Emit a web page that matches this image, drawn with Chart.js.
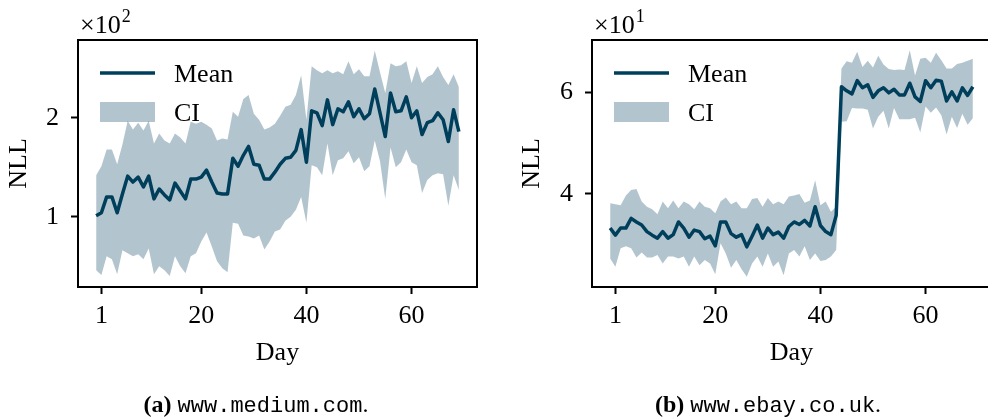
<!DOCTYPE html>
<html><head><meta charset="utf-8">
<script src="https://cdn.jsdelivr.net/npm/chart.js@4/dist/chart.umd.min.js"></script>
<style>
html,body{margin:0;padding:0;overflow:hidden;background:#fff;width:988px;height:419px}
.wrap{position:absolute;top:0}
.cap{position:absolute;top:390px;font-family:'Liberation Serif',serif;font-size:24px;color:#000;white-space:nowrap;transform:translateX(-50%);line-height:28px}
.cap b{font-weight:bold}
.cap code{font-family:'Liberation Mono','DejaVu Sans Mono',monospace;font-size:22px}
</style></head>
<body>
<div class="wrap" style="left:0;width:494px;height:419px"><canvas id="c1" width="494" height="419"></canvas></div>
<div class="wrap" style="left:494px;width:510px;height:419px"><canvas id="c2" width="510" height="419"></canvas></div>
<div class="cap" style="left:256px"><b>(a)</b> <code>www.medium.com</code>.</div>
<div class="cap" style="left:768px"><b>(b)</b> <code>www.ebay.co.uk</code>.</div>
<script>
// ---- data ----
const days = [0,1,2,3,4,5,6,7,8,9,10,11,12,13,14,15,16,17,18,19,20,21,22,23,24,25,26,27,28,29,30,31,32,33,34,35,36,37,38,39,40,41,42,43,44,45,46,47,48,49,50,51,52,53,54,55,56,57,58,59,60,61,62,63,64,65,66,67,68,69];

const mediumMean = [101,104,120,120,104,123,141,135,140,130,141,118,128,122,117,134,126,118,138,138,140,147,135,124,123,123,159,151,162,171,153,152,138,138,145,153,159,160,167,188,155,207,205,192,218,193,209,206,216,201,209,199,204,229,205,181,225,206,207,221,200,207,183,195,197,205,198,176,208,186];
const mediumUpper = [142,151,168,168,153,173,197,188,195,187,197,174,184,177,174,184,180,174,196,194,196,193,189,177,179,178,206,201,219,223,204,198,188,190,194,202,211,213,223,243,198,252,248,245,248,245,247,244,257,244,249,242,242,268,246,225,255,252,253,257,235,252,235,241,244,252,241,233,244,231];
const mediumLower = [46,41,60,57,42,66,63,60,62,57,68,42,50,46,40,60,50,43,60,63,75,84,70,55,48,44,94,93,81,80,78,81,67,75,85,87,96,100,107,120,94,152,150,142,174,142,157,159,166,154,160,146,151,177,156,118,170,150,155,168,155,152,124,137,142,144,143,111,142,127];

const ebayMean = [33.3,31.9,33.3,33.3,35.2,34.5,33.9,32.6,31.9,31.3,32.6,31.3,32.0,34.5,33.3,31.5,32.9,32.6,31.2,31.7,29.8,34.5,34.5,32.2,31.5,32.0,29.6,31.7,33.9,31.3,33.3,32.0,32.5,31.3,33.6,34.5,34.0,34.8,33.7,37.5,33.8,32.6,32.0,35.8,61.1,60.3,59.7,62.3,60.9,61.5,59.0,60.3,60.9,59.9,60.6,59.5,59.5,61.8,59.1,58.2,62.3,60.9,62.4,62.2,58.3,60.1,58.3,60.9,59.4,61.1];
const ebayUpper = [38.2,38.0,37.8,39.7,40.8,41.0,38.5,37.5,37.0,36.0,38.5,37.2,38.7,37.2,38.5,38.0,37.0,38.5,37.5,37.2,36.2,38.5,39.3,38.0,38.5,37.2,37.2,39.0,39.2,37.5,39.2,38.0,38.5,38.0,39.5,39.7,40.0,38.3,38.7,42.7,37.8,38.5,36.5,37.5,64.7,66.1,65.8,68.0,65.0,66.2,64.9,67.2,65.5,64.6,64.4,64.5,64.4,68.3,63.3,66.6,66.8,65.8,67.8,66.3,64.7,64.7,65.6,65.8,66.2,66.6];
const ebayLower = [27.3,25.7,29.3,29.7,29.3,27.5,28.5,27.5,27.5,28.0,26.3,27.7,27.7,27.3,27.7,25.7,27.7,26.0,27.0,26.3,24.2,30.3,28.3,25.5,27.0,25.2,23.7,26.3,27.7,25.7,28.3,25.7,26.7,24.0,28.3,29.0,27.7,29.7,27.0,28.3,26.8,27.0,27.7,29.0,54.2,54.3,56.9,56.8,56.8,56.6,52.9,55.2,56.4,52.9,56.9,54.7,54.7,54.7,55.0,52.1,57.2,56.0,57.0,55.5,51.7,55.2,53.0,55.8,53.6,54.9];

const xTicks = [1,20,40,60];
const mediumYTicks = [100,200];
const ebayYTicks = [40,60];
const legendLabels = ['Mean','CI'];
const xTitle = 'Day';
const yTitle = 'NLL';

// ---- style ----
const FONT = "'Liberation Serif','Times New Roman',serif";
const LINE = '#003f5c';
const BAND = 'rgba(0,63,92,0.3)';

const decor = {
  id: 'decor',
  afterDraw(chart, args, opts) {
    const {ctx, chartArea: a} = chart;
    ctx.save();
    ctx.strokeStyle = '#000'; ctx.lineWidth = 2;
    ctx.strokeRect(a.left, a.top, a.right - a.left, a.bottom - a.top);
    const lx = a.left + 22;
    ctx.strokeStyle = LINE; ctx.lineWidth = 3.5;
    ctx.beginPath(); ctx.moveTo(lx, 73); ctx.lineTo(lx + 55, 73); ctx.stroke();
    ctx.fillStyle = BAND; ctx.fillRect(lx, 102, 55, 20);
    ctx.fillStyle = '#000'; ctx.font = '26px ' + FONT; ctx.textBaseline = 'alphabetic'; ctx.textAlign = 'left';
    ctx.fillText(legendLabels[0], lx + 74, 82);
    ctx.fillText(legendLabels[1], lx + 74, 121);
    ctx.font = '26px ' + FONT;
    ctx.fillText('\u00d710', a.left + 2, 33);
    const w = ctx.measureText('\u00d710').width;
    ctx.font = '18px ' + FONT;
    ctx.fillText(opts.exp, a.left + 3 + w, 22);
    ctx.restore();
  }
};

function makeChart(id, mean, upper, lower, yTicks, yMin, yMax, div, exp, yWidth, rightPad, yTitleOff) {
  const pts = arr => days.map((d, i) => ({x: d, y: arr[i]}));
  const font = {family: FONT, size: 26};
  return new Chart(document.getElementById(id), {
    type: 'line',
    data: {
      datasets: [
        {label: legendLabels[0], data: pts(mean), borderColor: LINE, borderWidth: 3.5, pointRadius: 0, tension: 0, fill: false, borderJoinStyle: 'round'},
        {label: legendLabels[1], data: pts(upper), borderWidth: 0, borderColor: 'rgba(0,0,0,0)', backgroundColor: BAND, pointRadius: 0, tension: 0, fill: '+1'},
        {label: 'lower', data: pts(lower), borderWidth: 0, borderColor: 'rgba(0,0,0,0)', pointRadius: 0, tension: 0, fill: false}
      ]
    },
    options: {
      responsive: false, animation: false, devicePixelRatio: 1,
      layout: {padding: {top: 40, right: rightPad, left: 0, bottom: 0}},
      plugins: {legend: {display: false}, tooltip: {enabled: false}, decor: {exp: exp}},
      scales: {
        x: {
          type: 'linear', min: -3.45, max: 72.45,
          afterBuildTicks: s => { s.ticks = xTicks.map(v => ({value: v})); },
          afterFit: s => { s.height = 132; },
          ticks: {font, color: '#000', padding: 7, maxRotation: 0, autoSkip: false, callback: v => String(v)},
          grid: {display: true, drawOnChartArea: false, drawTicks: true, tickLength: 7, tickWidth: 2, tickColor: '#000'},
          border: {display: false},
          title: {display: true, text: xTitle, font, color: '#000', padding: {top: 0, bottom: 50}}
        },
        y: {
          type: 'linear', min: yMin, max: yMax,
          afterBuildTicks: s => { s.ticks = yTicks.map(v => ({value: v})); },
          afterFit: s => { s.width = yWidth; },
          ticks: {font, color: '#000', padding: 12, callback: v => String(v / div)},
          grid: {display: true, drawOnChartArea: false, drawTicks: true, tickLength: 7, tickWidth: 2, tickColor: '#000'},
          border: {display: false},
          title: {display: true, text: yTitle, font, color: '#000', padding: {top: yTitleOff, bottom: 0}}
        }
      }
    },
    plugins: [decor]
  });
}

makeChart('c1', mediumMean, mediumUpper, mediumLower, mediumYTicks, 29.0, 278.5, 100, '2', 78, 17, 4);
makeChart('c2', ebayMean, ebayUpper, ebayLower, ebayYTicks, 21.7, 70.3, 10, '1', 98, 13, 23);
</script>
</body></html>
